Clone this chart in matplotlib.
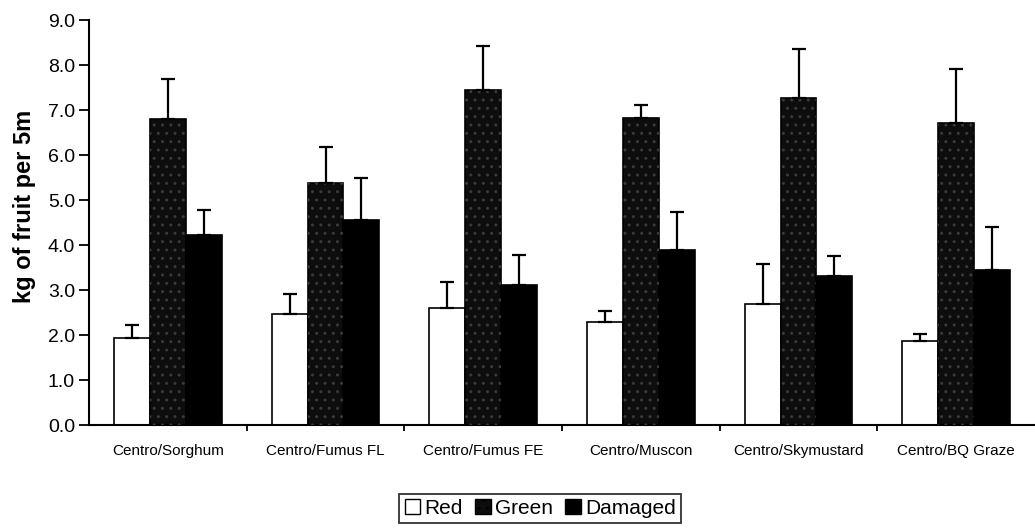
import numpy as np
import matplotlib
matplotlib.use("Agg")
import matplotlib.pyplot as plt
from matplotlib.patches import Patch

plt.rcParams["font.family"] = ["Liberation Sans", "DejaVu Sans"]

categories = ["Centro/Sorghum", "Centro/Fumus FL", "Centro/Fumus FE",
              "Centro/Muscon", "Centro/Skymustard", "Centro/BQ Graze"]
red = [1.94, 2.46, 2.60, 2.28, 2.68, 1.86]
red_err = [0.29, 0.46, 0.57, 0.26, 0.90, 0.17]
green = [6.81, 5.38, 7.44, 6.83, 7.27, 6.71]
green_err = [0.87, 0.81, 0.98, 0.29, 1.08, 1.21]
damaged = [4.23, 4.55, 3.12, 3.90, 3.32, 3.45]
damaged_err = [0.55, 0.94, 0.67, 0.83, 0.43, 0.96]

fig = plt.figure(figsize=(10.35, 5.28), dpi=100)
ax = fig.add_axes([0.086, 0.195, 0.914, 0.767])

x = np.arange(len(categories))
w = 0.228

series = [
    (red, red_err, "white", None),
    (green, green_err, "#0d0d0d", ".."),
    (damaged, damaged_err, "black", None),
]
for i, (vals, errs, fc, hatch) in enumerate(series):
    pos = x + (i - 1) * w
    ax.bar(pos, vals, w, color=fc, edgecolor="black", linewidth=1.2, zorder=2)
    if hatch:
        ax.bar(pos, vals, w, fill=False, hatch=hatch, edgecolor="#3a3a3a",
               linewidth=0, zorder=3)
    ax.errorbar(pos, vals, yerr=[np.zeros(len(vals)), errs], fmt="none",
                ecolor="black", elinewidth=1.6, capsize=5, capthick=1.6, zorder=4)

ax.set_xlim(-0.5, len(categories) - 0.5)
ax.set_ylim(0, 9.0)
ax.set_yticks(np.arange(0, 9.5, 1.0))
ax.set_yticklabels([f"{v:.1f}" for v in np.arange(0, 9.5, 1.0)], fontsize=14)
ax.set_xticks(x)
ax.set_xticklabels(categories, fontsize=11)
ax.set_xticks(np.arange(0.5, len(categories) - 0.5, 1.0), minor=True)
ax.tick_params(axis="x", which="major", length=0, pad=14)
ax.tick_params(axis="x", which="minor", length=4, width=1.3, direction="out")
ax.tick_params(axis="y", length=7, width=1.3, direction="out", pad=3)
ax.set_ylabel("kg of fruit per 5m", fontsize=17, fontweight="bold")
ax.yaxis.set_label_coords(-0.056, 0.54)

for s in ["top", "right"]:
    ax.spines[s].set_visible(False)
for s in ["left", "bottom"]:
    ax.spines[s].set_linewidth(1.5)

handles = [
    Patch(facecolor="white", edgecolor="black", label="Red"),
    Patch(facecolor="#0d0d0d", edgecolor="black", hatch="..", label="Green"),
    Patch(facecolor="black", edgecolor="black", label="Damaged"),
]
leg = fig.legend(handles=handles, loc="center", bbox_to_anchor=(0.522, 0.037),
                 ncol=3, fontsize=15, frameon=True, fancybox=False,
                 handlelength=0.75, handleheight=0.75, handletextpad=0.2,
                 columnspacing=0.6, borderpad=0.25, edgecolor="black")
leg.get_frame().set_linewidth(1.3)

fig.savefig("out.png", dpi=100)
